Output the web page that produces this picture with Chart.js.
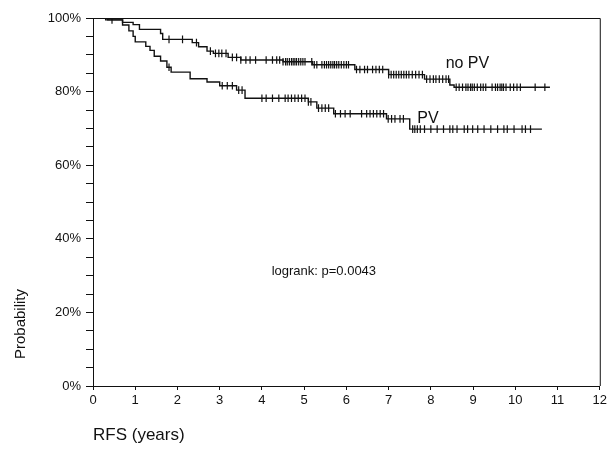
<!DOCTYPE html>
<html>
<head>
<meta charset="utf-8">
<script src="https://cdn.jsdelivr.net/npm/chart.js@4.4.1/dist/chart.umd.min.js"></script>
<style>
  body { margin: 0; background: #fff; }
</style>
</head>
<body>
<canvas id="km" width="610" height="451"></canvas>
<script>
"use strict";
// survival steps (years, %)
const noPvTimes = [0, 0.35, 0.7, 0.95, 1.1, 1.6, 1.65, 2.35, 2.5, 2.7, 2.85, 3.2, 3.5, 4.5, 5.2, 6.2, 7.0, 7.85, 8.45, 8.55];
const noPvSurv = [100, 99.5, 98.8, 98.2, 96.9, 95.8, 94.2, 93.3, 92.2, 91.0, 90.4, 89.3, 88.6, 88.1, 87.3, 86.0, 84.6, 83.4, 81.8, 81.2];
const noPvEnd = 10.82;
const noPvCensor = [0.45, 1.8, 2.12, 2.45, 2.78, 2.9, 2.98, 3.05, 3.15, 3.3, 3.4, 3.5, 3.62, 3.72, 3.85,
  4.1, 4.25, 4.35, 4.42, 4.5, 4.56, 4.6, 4.65, 4.7, 4.74, 4.78, 4.82, 4.87, 4.92, 4.97, 5.02,
  5.18, 5.24, 5.3, 5.42, 5.48, 5.53, 5.58, 5.63, 5.68, 5.72, 5.77, 5.82, 5.88, 5.94, 6.0, 6.05,
  6.24, 6.32, 6.43, 6.5, 6.62, 6.7, 6.78, 6.86, 7.0, 7.06, 7.12, 7.18, 7.24, 7.3, 7.36, 7.42,
  7.48, 7.56, 7.64, 7.72, 7.8, 7.9, 7.98, 8.06, 8.12, 8.2, 8.28, 8.36, 8.42, 8.6, 8.67, 8.75,
  8.83, 8.88, 8.94, 8.98, 9.03, 9.1, 9.18, 9.24, 9.3, 9.45, 9.53, 9.58, 9.64, 9.68, 9.72, 9.78,
  9.88, 9.96, 10.04, 10.12, 10.47, 10.7];

const pvTimes = [0, 0.3, 0.7, 0.85, 0.95, 1.0, 1.25, 1.35, 1.45, 1.6, 1.75, 1.85, 2.3, 2.7, 3.0, 3.4, 3.6, 5.1, 5.3, 5.7, 6.95, 7.5];
const pvSurv = [100, 99.5, 98.1, 96.5, 95.0, 93.5, 92.3, 91.2, 89.6, 88.3, 86.6, 85.3, 83.5, 82.6, 81.6, 80.4, 78.2, 77.2, 75.5, 74.0, 72.6, 69.8];
const pvEnd = 10.63;
const pvCensor = [1.8, 3.06, 3.18, 3.3, 3.45, 3.53, 4.0, 4.1, 4.25, 4.4, 4.55, 4.62, 4.7, 4.78, 4.86,
  4.94, 5.02, 5.1, 5.16, 5.34, 5.42, 5.5, 5.58, 5.74, 5.86, 5.97, 6.09, 6.36, 6.48, 6.56, 6.64,
  6.72, 6.8, 6.88, 6.99, 7.07, 7.15, 7.27, 7.35, 7.57, 7.62, 7.68, 7.75, 7.85, 8.0, 8.15, 8.3,
  8.45, 8.52, 8.62, 8.79, 8.87, 8.99, 9.11, 9.26, 9.42, 9.58, 9.73, 9.81, 9.97, 10.16, 10.24, 10.36];

// axis ticks
const xTicks = [0, 1, 2, 3, 4, 5, 6, 7, 8, 9, 10, 11, 12];
const yLabels = [0, 20, 40, 60, 80, 100];

const ink = "#111";
const fontFamily = "'Liberation Sans', Arial, sans-serif";

// build step line points
function stepPoints(times, surv, end) {
  const pts = times.map(function (t, i) {
    return { x: t, y: surv[i] };
  });
  pts.push({ x: end, y: surv[surv.length - 1] });
  return pts;
}

// survival value at time t
function survAt(times, surv, t) {
  let s = surv[0];
  for (let i = 0; i < times.length; i++) {
    if (times[i] <= t) s = surv[i];
  }
  return s;
}

function censorPoints(times, surv, cens) {
  return cens.map(function (t) {
    return { x: t, y: survAt(times, surv, t) };
  });
}

const lineStyle = {
  showLine: true,
  stepped: true,
  borderColor: ink,
  borderWidth: 1.4,
  pointRadius: 0,
  fill: false,
};

const tickStyle = {
  showLine: false,
  pointStyle: "line",
  pointRotation: 90,
  pointRadius: 3.8,
  pointBorderColor: ink,
  pointBorderWidth: 1.2,
};

// labels, frame and axis titles
const annotations = {
  id: "annotations",
  afterDraw(chart) {
    const ctx = chart.ctx;
    const a = chart.chartArea;
    const xs = chart.scales.x;
    const ys = chart.scales.y;
    ctx.save();
    ctx.strokeStyle = ink;
    ctx.lineWidth = 1;
    ctx.beginPath();
    ctx.moveTo(a.left, a.top + 0.5);
    ctx.lineTo(a.right + 0.5, a.top + 0.5);
    ctx.lineTo(a.right + 0.5, a.bottom);
    ctx.stroke();

    ctx.fillStyle = ink;
    ctx.textBaseline = "middle";
    ctx.textAlign = "left";
    ctx.font = "16px " + fontFamily;
    ctx.fillText("no PV", xs.getPixelForValue(8.35), ys.getPixelForValue(87.6));
    ctx.fillText("PV", xs.getPixelForValue(7.68), ys.getPixelForValue(72.6));
    ctx.font = "13px " + fontFamily;
    ctx.fillText("logrank: p=0.0043", xs.getPixelForValue(4.23), ys.getPixelForValue(31));

    ctx.font = "17px " + fontFamily;
    ctx.textBaseline = "alphabetic";
    ctx.fillText("RFS (years)", 93, 440);

    ctx.translate(25, 324);
    ctx.rotate(-Math.PI / 2);
    ctx.textAlign = "center";
    ctx.font = "15px " + fontFamily;
    ctx.fillText("Probability", 0, 0);
    ctx.restore();
  },
};

new Chart(document.getElementById("km"), {
  type: "scatter",
  data: {
    datasets: [
      Object.assign({ label: "no PV", data: stepPoints(noPvTimes, noPvSurv, noPvEnd) }, lineStyle),
      Object.assign({ label: "PV", data: stepPoints(pvTimes, pvSurv, pvEnd) }, lineStyle),
      Object.assign({ label: "no PV censored", data: censorPoints(noPvTimes, noPvSurv, noPvCensor) }, tickStyle),
      Object.assign({ label: "PV censored", data: censorPoints(pvTimes, pvSurv, pvCensor) }, tickStyle),
    ],
  },
  options: {
    responsive: false,
    animation: false,
    layout: { padding: { top: 18, right: 7, left: 0, bottom: 0 } },
    plugins: {
      legend: { display: false },
      tooltip: { enabled: false },
    },
    scales: {
      x: {
        type: "linear",
        min: 0,
        max: 12,
        afterFit(scale) {
          scale.height = 65;
        },
        afterBuildTicks(scale) {
          scale.ticks = xTicks.map(function (v) {
            return { value: v };
          });
        },
        border: { display: true, color: ink, width: 1 },
        grid: { drawOnChartArea: false, drawTicks: true, tickLength: 4, color: ink },
        ticks: {
          color: ink,
          padding: 3,
          maxRotation: 0,
          autoSkip: false,
          font: { family: fontFamily, size: 13 },
        },
      },
      y: {
        type: "linear",
        min: 0,
        max: 100,
        afterFit(scale) {
          scale.width = 93;
        },
        border: { display: true, color: ink, width: 1 },
        grid: { drawOnChartArea: false, drawTicks: true, tickLength: 7, color: ink },
        ticks: {
          stepSize: 5,
          color: ink,
          padding: 5,
          autoSkip: false,
          font: { family: fontFamily, size: 13 },
          callback: function (v) {
            return yLabels.indexOf(v) >= 0 ? v + "%" : "";
          },
        },
      },
    },
  },
  plugins: [annotations],
});
</script>
</body>
</html>
